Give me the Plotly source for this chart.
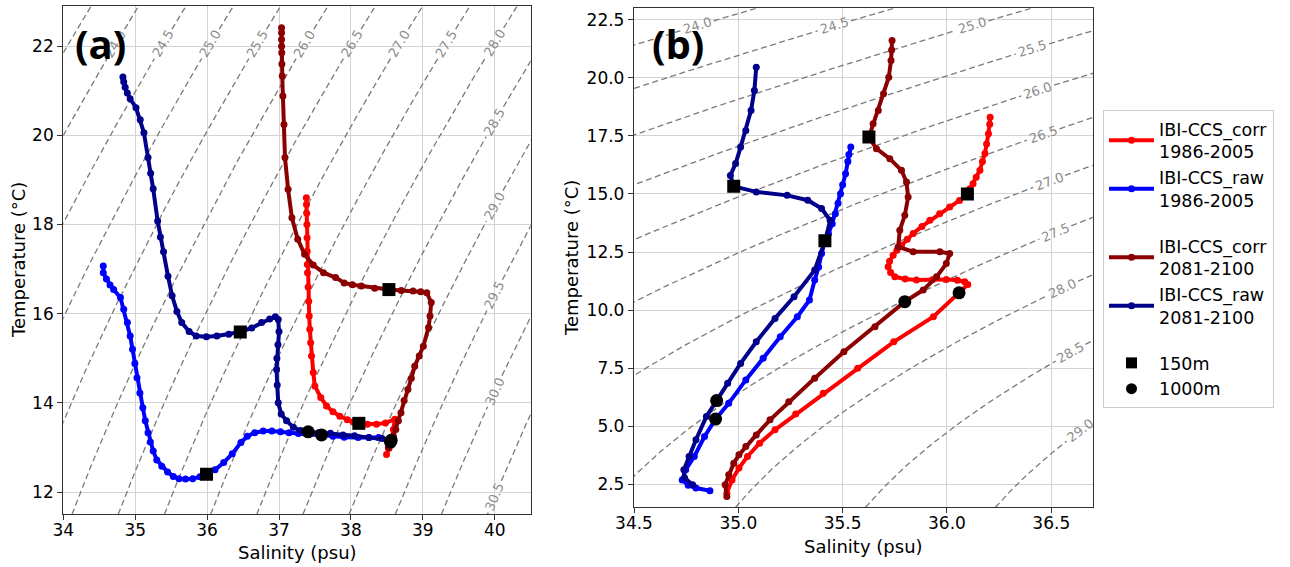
import math
import numpy as np
import plotly.graph_objects as go

# ---------------- Panel (a) data ----------------
a_corr_hist_S = [37.380, 37.382, 37.385, 37.388, 37.390, 37.392, 37.394, 37.396, 37.405, 37.413, 37.420, 37.428,
                 37.440, 37.452, 37.476, 37.498, 37.580, 37.661, 37.750, 37.846, 37.950, 38.030, 38.110, 38.230,
                 38.356, 38.480, 38.610, 38.590, 38.565, 38.530, 38.495]
a_corr_hist_T = [18.60, 18.45, 18.25, 18.00, 17.70, 17.40, 17.10, 16.92, 16.60, 16.28, 15.95, 15.65,
                 15.35, 15.05, 14.68, 14.38, 14.12, 13.93, 13.80, 13.70, 13.62, 13.57, 13.54, 13.52,
                 13.52, 13.55, 13.63, 13.40, 13.15, 12.98, 12.84]

a_raw_hist_S = [34.556, 34.556, 34.600, 34.650, 34.700, 34.795, 34.840, 34.891, 34.930, 34.963, 34.995, 35.025,
                35.065, 35.106, 35.140, 35.178, 35.210, 35.250, 35.300, 35.370, 35.450, 35.530, 35.609, 35.700,
                35.800, 35.900, 35.992, 36.110, 36.231, 36.350, 36.470, 36.560, 36.662, 36.780, 36.901, 37.020,
                37.140, 37.270, 37.400, 37.591, 37.750, 37.906, 38.100, 38.250, 38.385]
a_raw_hist_T = [17.07, 16.92, 16.78, 16.64, 16.54, 16.36, 16.10, 15.80, 15.50, 15.20, 14.88, 14.56,
                14.22, 13.89, 13.60, 13.33, 13.12, 12.92, 12.72, 12.58, 12.45, 12.35, 12.30, 12.29,
                12.30, 12.34, 12.40, 12.50, 12.66, 12.86, 13.11, 13.25, 13.33, 13.37, 13.37, 13.35,
                13.33, 13.31, 13.29, 13.28, 13.25, 13.23, 13.22, 13.22, 13.22]

a_corr_fut_S = [37.035, 37.035, 37.035, 37.036, 37.038, 37.040, 37.045, 37.054, 37.069, 37.083, 37.126, 37.179,
                37.260, 37.356, 37.476, 37.619, 37.787, 37.906, 38.020, 38.145, 38.330, 38.528, 38.700, 38.863,
                38.970, 39.055, 39.117, 39.100, 39.079, 39.007, 38.950, 38.887, 38.840, 38.792, 38.740, 38.696,
                38.660, 38.624, 38.590, 38.550, 38.520]
a_corr_fut_T = [22.41, 22.30, 22.15, 22.00, 21.85, 21.60, 21.33, 20.88, 20.24, 19.50, 18.79, 18.15,
                17.67, 17.33, 17.09, 16.92, 16.81, 16.69, 16.65, 16.62, 16.57, 16.54, 16.52, 16.51,
                16.49, 16.47, 16.25, 15.95, 15.69, 15.27, 15.05, 14.82, 14.55, 14.30, 14.05, 13.78,
                13.60, 13.40, 13.25, 13.12, 12.99]

a_raw_fut_S = [34.829, 34.840, 34.860, 34.890, 34.930, 35.011, 35.070, 35.121, 35.178, 35.215, 35.250, 35.312,
               35.350, 35.394, 35.456, 35.513, 35.580, 35.647, 35.750, 35.848, 35.990, 36.136, 36.300, 36.461,
               36.620, 36.758, 36.870, 36.949, 36.989, 37.000, 36.985, 36.970, 36.966, 36.975, 36.989, 37.030,
               37.105, 37.200, 37.300, 37.406, 37.550, 37.715, 37.890, 38.050, 38.250, 38.433, 38.518]
a_raw_fut_T = [21.31, 21.20, 21.08, 20.95, 20.82, 20.62, 20.35, 20.06, 19.50, 19.15, 18.80, 18.08,
               17.72, 17.39, 16.84, 16.40, 16.05, 15.80, 15.60, 15.50, 15.48, 15.50, 15.54, 15.59,
               15.68, 15.80, 15.88, 15.93, 15.87, 15.60, 15.30, 15.00, 14.75, 14.40, 14.00, 13.75,
               13.60, 13.45, 13.38, 13.35, 13.33, 13.32, 13.28, 13.26, 13.22, 13.20, 13.17]

a_150m_S = [38.110, 35.992, 38.528, 36.461]
a_150m_T = [13.54, 12.40, 16.54, 15.59]
a_1000m_S = [38.560, 37.591, 38.550, 37.406]
a_1000m_T = [13.16, 13.28, 13.12, 13.35]

# ---------------- Panel (b) data ----------------
b_corr_hist_S = [36.207, 36.205, 36.199, 36.190, 36.182, 36.170, 36.158, 36.140, 36.125, 36.110, 36.098, 36.060,
                 36.013, 35.965, 35.918, 35.880, 35.838, 35.810, 35.782, 35.760, 35.742, 35.725, 35.718, 35.730,
                 35.750, 35.800, 35.854, 35.930, 35.997, 36.050, 36.085, 36.100, 36.058, 35.935, 35.745, 35.572,
                 35.407, 35.275, 35.176, 35.102, 35.044, 35.003, 34.970, 34.945]
b_corr_hist_T = [18.31, 18.00, 17.60, 17.15, 16.74, 16.40, 16.02, 15.72, 15.44, 15.22, 15.00, 14.72,
                 14.44, 14.15, 13.87, 13.60, 13.30, 13.05, 12.79, 12.57, 12.36, 12.10, 11.86, 11.62,
                 11.43, 11.34, 11.29, 11.30, 11.32, 11.28, 11.22, 11.10, 10.74, 9.71, 8.63, 7.49,
                 6.41, 5.52, 4.84, 4.26, 3.69, 3.19, 2.68, 2.11]

b_raw_hist_S = [35.539, 35.530, 35.525, 35.514, 35.500, 35.490, 35.478, 35.465, 35.450, 35.432, 35.415, 35.399,
                35.385, 35.366, 35.341, 35.283, 35.201, 35.119, 35.036, 34.954, 34.891, 34.838, 34.789, 34.748,
                34.731, 34.760, 34.797, 34.864]
b_raw_hist_T = [17.02, 16.70, 16.40, 15.87, 15.40, 15.01, 14.60, 14.15, 13.72, 13.29, 12.98, 12.43,
                11.85, 11.29, 10.43, 9.71, 8.85, 7.92, 6.99, 5.98, 5.30, 4.55, 3.69, 3.12,
                2.68, 2.45, 2.33, 2.21]

b_corr_fut_S = [35.737, 35.735, 35.732, 35.721, 35.696, 35.671, 35.646, 35.626, 35.662, 35.726, 35.782, 35.806,
                35.814, 35.798, 35.774, 35.766, 35.838, 35.966, 36.013, 35.997, 35.950, 35.886, 35.798, 35.655,
                35.506, 35.366, 35.242, 35.152, 35.086, 35.036, 35.003, 34.978, 34.954, 34.937, 34.945]
b_corr_fut_T = [21.61, 21.20, 20.75, 20.03, 19.32, 18.60, 18.03, 17.45, 16.95, 16.52, 16.02, 15.52,
                14.87, 14.08, 13.44, 12.72, 12.51, 12.51, 12.43, 12.00, 11.43, 10.86, 10.36, 9.28,
                8.20, 7.06, 6.05, 5.27, 4.62, 4.12, 3.76, 3.40, 2.90, 2.47, 1.97]

b_raw_fut_S = [35.086, 35.077, 35.061, 35.036, 35.011, 34.987, 34.962, 34.978, 35.086, 35.234, 35.333, 35.399,
               35.440, 35.420, 35.366, 35.267, 35.176, 35.086, 35.011, 34.949, 34.896, 34.847, 34.797, 34.764,
               34.739, 34.743, 34.781]
b_raw_fut_T = [20.46, 19.46, 18.60, 17.74, 17.02, 16.31, 15.80, 15.33, 15.09, 14.94, 14.73, 14.37,
               13.87, 13.10, 11.72, 10.57, 9.64, 8.63, 7.70, 6.84, 6.10, 5.41, 4.41, 3.69,
               3.12, 2.76, 2.47]

b_150m_S = [36.098, 35.415, 35.626, 34.978]
b_150m_T = [15.00, 12.98, 17.45, 15.33]
b_1000m_S = [36.058, 34.891, 35.798, 34.896]
b_1000m_T = [10.74, 5.30, 10.36, 6.10]

# density (sigma-t) contour levels
a_levels = [23.5, 24.0, 24.5, 25.0, 25.5, 26.0, 26.5, 27.0, 27.5, 28.0, 28.5, 29.0, 29.5, 30.0, 30.5, 31.0]
b_levels = [23.5, 24.0, 24.5, 25.0, 25.5, 26.0, 26.5, 27.0, 27.5, 28.0, 28.5, 29.0, 29.5]

series_names = ["IBI-CCS_corr<br>1986-2005", "IBI-CCS_raw<br>1986-2005",
                "IBI-CCS_corr<br>2081-2100", "IBI-CCS_raw<br>2081-2100"]
series_colors = ["#ff0000", "#0000ff", "#8b0000", "#00008b"]
series_groups = ["g1", "g1", "g2", "g2"]

panel_a = [(a_corr_hist_S, a_corr_hist_T), (a_raw_hist_S, a_raw_hist_T),
           (a_corr_fut_S, a_corr_fut_T), (a_raw_fut_S, a_raw_fut_T)]
panel_b = [(b_corr_hist_S, b_corr_hist_T), (b_raw_hist_S, b_raw_hist_T),
           (b_corr_fut_S, b_corr_fut_T), (b_raw_fut_S, b_raw_fut_T)]


def sigma_t(S, T):
    """UNESCO 1981 one-atmosphere equation of state, minus 1000."""
    rw = (999.842594 + 6.793952e-2 * T - 9.095290e-3 * T ** 2 + 1.001685e-4 * T ** 3
          - 1.120083e-6 * T ** 4 + 6.536332e-9 * T ** 5)
    A = 8.24493e-1 - 4.0899e-3 * T + 7.6438e-5 * T ** 2 - 8.2467e-7 * T ** 3 + 5.3875e-9 * T ** 4
    B = -5.72466e-3 + 1.0227e-4 * T - 1.6546e-6 * T ** 2
    C = 4.8314e-4
    return rw + A * S + B * S ** 1.5 + C * S ** 2 - 1000.0


def solve_S(level, T):
    T = np.asarray(T, float)
    lo = np.full_like(T, 25.0)
    hi = np.full_like(T, 45.0)
    for _ in range(60):
        mid = 0.5 * (lo + hi)
        f = sigma_t(mid, T) - level
        hi = np.where(f > 0, mid, hi)
        lo = np.where(f > 0, lo, mid)
    return 0.5 * (lo + hi)


def solve_T_on_path(level, s_of_t, tlo, thi):
    lo, hi = tlo, thi
    for _ in range(60):
        mid = 0.5 * (lo + hi)
        if sigma_t(s_of_t(mid), mid) - level > 0:
            lo = mid
        else:
            hi = mid
    return 0.5 * (lo + hi)


W, H = 1290, 567
# panel pixel boxes (left, right, top, bottom) and axis ranges
PA = dict(x0=63.3, x1=530.7, y0=6.0, y1=514.3, sr=(34.0, 40.5), tr=(11.5, 22.9))
PB = dict(x0=634.0, x1=1093.0, y0=8.3, y1=507.3, sr=(34.5, 36.7), tr=(1.5, 23.0))


def to_px(P, S, T):
    px = P["x0"] + (np.asarray(S) - P["sr"][0]) / (P["sr"][1] - P["sr"][0]) * (P["x1"] - P["x0"])
    py = P["y1"] - (np.asarray(T) - P["tr"][0]) / (P["tr"][1] - P["tr"][0]) * (P["y1"] - P["y0"])
    return px, py


def label_angle(P, S, T):
    e = 1e-4
    gs = (sigma_t(S + e, T) - sigma_t(S - e, T)) / (2 * e)
    gt = (sigma_t(S, T + e) - sigma_t(S, T - e)) / (2 * e)
    ax = (P["x1"] - P["x0"]) / (P["sr"][1] - P["sr"][0])
    ay = (P["y1"] - P["y0"]) / (P["tr"][1] - P["tr"][0])
    dx = -gt * ax
    dy = -gs * ay
    ang = math.degrees(math.atan2(dy, dx))
    if ang > 90:
        ang -= 180
    if ang < -90:
        ang += 180
    return ang


def label_positions_a(level):
    s = float(solve_S(level, np.array([22.05]))[0])
    if 34.15 <= s <= 39.75:
        return s, 22.05
    if s > 39.75:
        t = solve_T_on_path(level, lambda tt: 40.0, 1.0, 30.0)
        if 11.7 <= t <= 22.8:
            return 40.0, t
    return None


def label_positions_b(level):
    s = float(solve_S(level, np.array([22.25]))[0])
    if 34.62 <= s <= 36.2:
        return s, 22.25
    if s > 36.2:
        t = solve_T_on_path(level, lambda tt: 36.40 + (22.0 - tt) * (0.25 / 18.0), 0.0, 30.0)
        if 1.6 <= t <= 22.8:
            return 36.40 + (22.0 - t) * (0.25 / 18.0), t
    return None


fig = go.Figure()
annotations = []

for P, levels, lab_fn, xa, ya, xref, yref in [(PA, a_levels, label_positions_a, "x", "y", "x", "y"),
                                               (PB, b_levels, label_positions_b, "x2", "y2", "x2", "y2")]:
    tg = np.arange(P["tr"][0], P["tr"][1] + 0.005, 0.01)
    xs, ys = [], []
    for lev in levels:
        sg = solve_S(lev, tg)
        keep = np.ones_like(sg, dtype=bool)
        lab = lab_fn(lev)
        if lab is not None:
            ls, lt = lab
            lpx, lpy = to_px(P, ls, lt)
            px, py = to_px(P, sg, tg)
            keep = np.hypot(px - lpx, py - lpy) > 17
            annotations.append(dict(text=f"{lev:.1f}", x=ls, y=lt, xref=xref, yref=yref, showarrow=False,
                                    xanchor="center", yanchor="middle", textangle=label_angle(P, ls, lt),
                                    font=dict(family="DejaVu Sans", size=13, color="#8c8c8c")))
        for s_, t_, k in zip(sg, tg, keep):
            if k:
                xs.append(float(s_))
                ys.append(float(t_))
            else:
                xs.append(None)
                ys.append(None)
        xs.append(None)
        ys.append(None)
    fig.add_trace(go.Scatter(x=xs, y=ys, xaxis=xa, yaxis=ya, mode="lines", hoverinfo="skip",
                             line=dict(color="#7a7a7a", width=1.3, dash="6px,3.5px"), showlegend=False))

# profiles
for i in range(4):
    for pdata, xa, ya, show in [(panel_a, "x", "y", True), (panel_b, "x2", "y2", False)]:
        S, T = pdata[i]
        fig.add_trace(go.Scatter(
            x=S, y=T, xaxis=xa, yaxis=ya, mode="lines+markers",
            line=dict(color=series_colors[i], width=4),
            marker=dict(color=series_colors[i], size=7),
            name=series_names[i], legendgroup=series_groups[i], showlegend=show))

# depth markers
for S, T, xa, ya in [(a_150m_S, a_150m_T, "x", "y"), (b_150m_S, b_150m_T, "x2", "y2")]:
    fig.add_trace(go.Scatter(x=S, y=T, xaxis=xa, yaxis=ya, mode="markers",
                             marker=dict(symbol="square", color="black", size=13),
                             showlegend=False, legendgroup="g3"))
for S, T, xa, ya in [(a_1000m_S, a_1000m_T, "x", "y"), (b_1000m_S, b_1000m_T, "x2", "y2")]:
    fig.add_trace(go.Scatter(x=S, y=T, xaxis=xa, yaxis=ya, mode="markers",
                             marker=dict(symbol="circle", color="black", size=13),
                             showlegend=False, legendgroup="g3"))

fig.add_trace(go.Scatter(x=[None], y=[None], mode="markers", name="150m", legendgroup="g3",
                         marker=dict(symbol="square", color="black", size=11)))
fig.add_trace(go.Scatter(x=[None], y=[None], mode="markers", name="1000m", legendgroup="g3",
                         marker=dict(symbol="circle", color="black", size=11)))

ax_common = dict(showgrid=True, gridcolor="#d3d3d3", gridwidth=1, showline=True, linecolor="#333333",
                 linewidth=1.3, mirror=True, ticks="outside", ticklen=5, tickcolor="#333333",
                 zeroline=False, tickfont=dict(family="DejaVu Sans", size=17, color="black"),
                 automargin=False)

fig.update_layout(
    width=W, height=H, margin=dict(l=0, r=0, t=0, b=0),
    paper_bgcolor="white", plot_bgcolor="white",
    font=dict(family="DejaVu Sans", size=17, color="black"),
    xaxis=dict(domain=[PA["x0"] / W, PA["x1"] / W], range=list(PA["sr"]), dtick=1, tick0=34, anchor="y",
               ticklabelstandoff=-5, **ax_common),
    yaxis=dict(domain=[1 - PA["y1"] / H, 1 - PA["y0"] / H], range=list(PA["tr"]), dtick=2, tick0=12,
               anchor="x", **ax_common),
    xaxis2=dict(domain=[PB["x0"] / W, PB["x1"] / W], range=list(PB["sr"]), dtick=0.5, tick0=34.5,
                tickformat=".1f", anchor="y2", ticklabelstandoff=-5, **ax_common),
    yaxis2=dict(domain=[1 - PB["y1"] / H, 1 - PB["y0"] / H], range=list(PB["tr"]), dtick=2.5, tick0=2.5,
                tickformat=".1f", anchor="x2", **ax_common),
    legend=dict(x=1103 / W, y=1 - 110 / H, xanchor="left", yanchor="top", bgcolor="white",
                bordercolor="#cccccc", borderwidth=1, font=dict(family="DejaVu Sans", size=17.5),
                tracegroupgap=20, itemwidth=45),
    showlegend=True,
)

annotations += [
    dict(text="<b>(a)</b>", x=100 / W, y=1 - 43 / H, font=dict(family="Open Sans", size=40, color="black")),
    dict(text="<b>(b)</b>", x=678 / W, y=1 - 43 / H, font=dict(family="Open Sans", size=40, color="black")),
    dict(text="Salinity (psu)", x=297 / W, y=1 - 552 / H, font=dict(size=18)),
    dict(text="Salinity (psu)", x=863 / W, y=1 - 546 / H, font=dict(size=18)),
    dict(text="Temperature (°C)", x=18 / W, y=1 - 260 / H, textangle=-90, font=dict(size=18)),
    dict(text="Temperature (°C)", x=571 / W, y=1 - 258 / H, textangle=-90, font=dict(size=18)),
]
for a in annotations[-6:]:
    a.update(xref="paper", yref="paper", showarrow=False, xanchor="center", yanchor="middle")
fig.update_layout(annotations=annotations)

fig.write_html("out.html", config={"displayModeBar": False},
               post_script="document.body.style.margin='0px';")
